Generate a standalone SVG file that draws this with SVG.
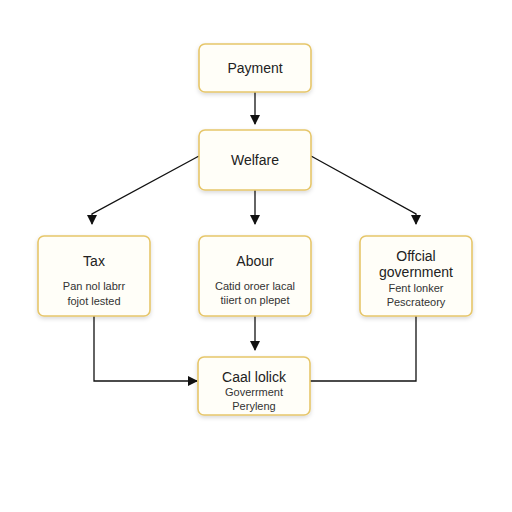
<svg xmlns="http://www.w3.org/2000/svg" width="512" height="512" viewBox="0 0 512 512">
<defs>
<filter id="sh" x="-20%" y="-20%" width="140%" height="150%"><feDropShadow dx="0" dy="2" stdDeviation="2" flood-color="#000" flood-opacity="0.15"/></filter>
<marker id="ah" markerWidth="10" markerHeight="10" refX="9" refY="5" orient="auto" markerUnits="userSpaceOnUse"><path d="M0,0 L10,5 L0,10 z" fill="#111"/></marker>
</defs>
<style>
.box{fill:#fffef8;stroke:#e6c66a;stroke-width:1.6;filter:url(#sh)}
.t{font-family:"Liberation Sans",Arial,sans-serif;font-size:14px;fill:#222;text-anchor:middle}
.s{font-family:"Liberation Sans",Arial,sans-serif;font-size:11px;fill:#333;text-anchor:middle}
.c{fill:none;stroke:#111;stroke-width:1.3}
</style>
<rect width="512" height="512" fill="#fff"/>
<g id="connectors">
<line class="c" x1="255" y1="92" x2="255" y2="124" marker-end="url(#ah)"/>
<polyline class="c" points="199,156 92,214 92,224" marker-end="url(#ah)"/>
<line class="c" x1="255" y1="190" x2="255" y2="224" marker-end="url(#ah)"/>
<polyline class="c" points="311,156 416,214 416,224" marker-end="url(#ah)"/>
<polyline class="c" points="94,316 94,381 197,381" marker-end="url(#ah)"/>
<line class="c" x1="255" y1="316" x2="255" y2="350" marker-end="url(#ah)"/>
<polyline class="c" points="416,316 416,381 310,381"/>
</g>
<g id="payment"><rect class="box" x="199" y="44" width="112" height="48" rx="6"/><text class="t" x="255" y="73">Payment</text></g>
<g id="welfare"><rect class="box" x="199" y="130" width="112" height="60" rx="6"/><text class="t" x="255" y="165">Welfare</text></g>
<g id="tax"><rect class="box" x="38" y="236" width="112" height="80" rx="6"/><text class="t" x="94" y="266">Tax</text><text class="s" x="94" y="290">Pan nol labrr</text><text class="s" x="94" y="305">fojot lested</text></g>
<g id="abour"><rect class="box" x="199" y="236" width="112" height="80" rx="6"/><text class="t" x="255" y="266">Abour</text><text class="s" x="255" y="290">Catid oroer lacal</text><text class="s" x="255" y="304">tiiert on plepet</text></g>
<g id="official"><rect class="box" x="360" y="236" width="112" height="80" rx="6"/><text class="t" x="416" y="261">Offcial</text><text class="t" x="416" y="277">government</text><text class="s" x="416" y="292">Fent lonker</text><text class="s" x="416" y="306">Pescrateory</text></g>
<g id="bottom"><rect class="box" x="198" y="357" width="112" height="58" rx="6"/><text class="t" x="254" y="382">Caal lolick</text><text class="s" x="254" y="396">Goverrment</text><text class="s" x="254" y="410">Peryleng</text></g>
</svg>
